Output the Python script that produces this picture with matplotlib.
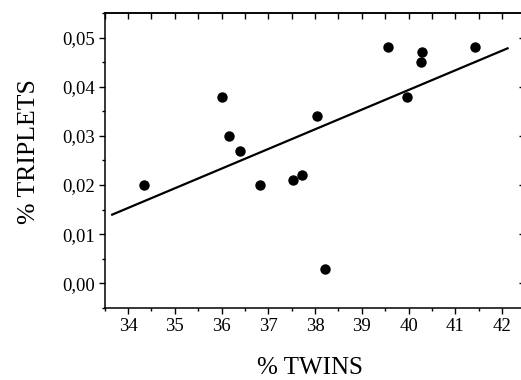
import numpy as np
import matplotlib
matplotlib.use("Agg")
import matplotlib.pyplot as plt
from matplotlib.ticker import MultipleLocator, FuncFormatter, NullFormatter

twins = [34.35, 36.00, 36.15, 36.40, 36.82, 37.52, 37.72, 38.04, 38.22, 39.57, 39.97, 40.27, 40.28, 41.43]
triplets = [0.020, 0.038, 0.030, 0.027, 0.020, 0.021, 0.022, 0.034, 0.003, 0.048, 0.038, 0.045, 0.047, 0.048]
fit_x = [33.64, 42.14]
fit_y = [0.0139, 0.0479]

plt.rcParams['font.family'] = ['Liberation Serif', 'DejaVu Serif']

fig = plt.figure(figsize=(5.21, 3.80), dpi=100)
ax = fig.add_axes([0.2008, 0.1895, 0.8077, 0.7763])

ax.plot(fit_x, fit_y, color='black', lw=1.6, solid_capstyle='butt')
ax.plot(twins, triplets, 'o', color='black', markersize=7.5, markeredgewidth=0)

ax.set_xlim(33.5, 42.5)
ax.set_ylim(-0.005, 0.055)

ax.xaxis.set_major_locator(MultipleLocator(1))
ax.xaxis.set_minor_locator(MultipleLocator(0.5))
ax.yaxis.set_major_locator(MultipleLocator(0.01))
ax.yaxis.set_minor_locator(MultipleLocator(0.005))
ax.yaxis.set_major_formatter(FuncFormatter(lambda v, p: f"{v:.2f}".replace('.', ',').replace('-0,00', '0,00')))
ax.xaxis.set_major_formatter(FuncFormatter(lambda v, p: f"{v:.0f}"))

ax.tick_params(which='major', direction='out', length=4.5, width=1, labelsize=13.5, pad=2.5)
ax.tick_params(which='minor', direction='out', length=2.5, width=1)

for s in ax.spines.values():
    s.set_linewidth(1.1)

top = ax.secondary_xaxis('top')
top.xaxis.set_major_locator(MultipleLocator(0.5))
top.xaxis.set_major_formatter(NullFormatter())
top.tick_params(which='major', direction='in', length=4, width=1)
top.spines['top'].set_linewidth(1.1)

right = ax.secondary_yaxis('right')
right.yaxis.set_major_locator(MultipleLocator(0.01))
right.yaxis.set_major_formatter(NullFormatter())
right.tick_params(which='major', direction='in', length=4, width=1)
right.spines['right'].set_linewidth(1.1)

ax.set_xlabel('% TWINS', fontsize=18)
ax.set_ylabel('% TRIPLETS', fontsize=18.5)
ax.xaxis.set_label_coords(0.487, -0.166)
ax.yaxis.set_label_coords(-0.1547, 0.5305)

fig.savefig('out.png', dpi=100)
